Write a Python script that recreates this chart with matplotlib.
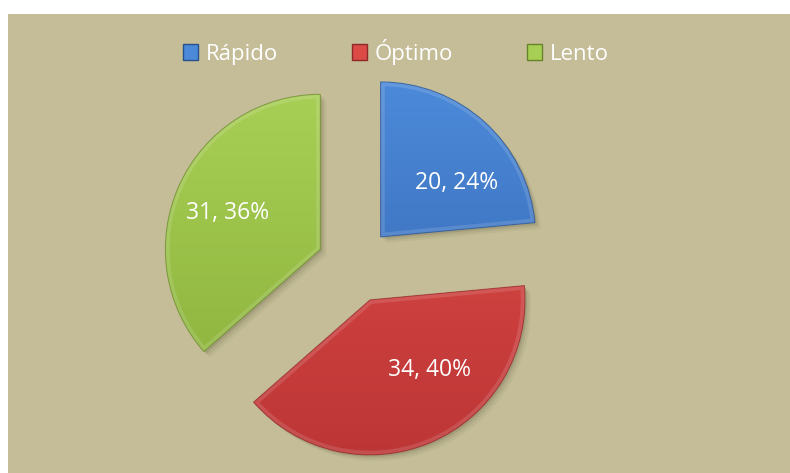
import numpy as np
import matplotlib
matplotlib.use("Agg")
import matplotlib.pyplot as plt
from matplotlib.colors import LinearSegmentedColormap
from matplotlib.patches import Patch, Wedge

# data
categories = ["Rápido", "Óptimo", "Lento"]
values = [20, 34, 31]

# colours (top of gradient, bottom of gradient, edge)
tops = ["#4C8AD9", "#DB4A47", "#A8CF55"]
bottoms = ["#3567B2", "#BD3636", "#8CB23C"]
edges = ["#27508C", "#8E2827", "#66832A"]

bg = "#C4BD97"
plt.rcParams["font.family"] = ["Open Sans", "DejaVu Sans"]

fig = plt.figure(figsize=(7.9, 4.73), dpi=100)
fig.patch.set_facecolor("white")
# panel in pixel units
ax = fig.add_axes([8 / 790, 0, 782 / 790, 459 / 473])
ax.set_facecolor(bg)

total = sum(values)
wedges, texts, autotexts = ax.pie(
    values, radius=155, center=(347, 208), explode=[38, 38, 38],
    startangle=90, counterclock=False, frame=True,
    colors=bottoms,
    autopct=lambda p: "{:.0f}, {:.0f}%".format(p * total / 100, p),
    pctdistance=0.6,
    textprops=dict(color="white", fontsize=16.5),
    wedgeprops=dict(linewidth=0),
)

label_shift = [-12, 17, 3]   # degrees, nudge labels like the original
label_dist = [0.6, 0.59, 0.64]

for i, w in enumerate(wedges):
    cx, cy = w.center
    r = w.r
    # soft shadow
    for k, a in [(6, 0.05), (4, 0.08), (2, 0.12)]:
        sh = Wedge((cx + k, cy - k), r, w.theta1, w.theta2,
                   facecolor="#3a3520", alpha=a, lw=0, zorder=0.5)
        ax.add_patch(sh)
    w.set_zorder(1)
    # vertical gradient clipped to the wedge
    cmap = LinearSegmentedColormap.from_list("g%d" % i, [bottoms[i], tops[i]])
    grad = np.linspace(0, 1, 256).reshape(-1, 1)
    im = ax.imshow(grad, cmap=cmap, origin="lower", aspect="auto",
                   extent=(cx - r, cx + r, cy - r, cy + r), zorder=1.1,
                   interpolation="bilinear")
    im.set_clip_path(w)
    # bevel: light rim inside, dark thin outline
    rim = Wedge((cx, cy), r, w.theta1, w.theta2, facecolor="none",
                edgecolor="white", lw=6, alpha=0.13, zorder=1.2)
    ax.add_patch(rim)
    rim.set_clip_path(w)
    rim2 = Wedge((cx, cy), r, w.theta1, w.theta2, facecolor="none",
                 edgecolor=edges[i], lw=0.8, alpha=0.6, zorder=1.3)
    ax.add_patch(rim2)

    # move labels
    mid = np.deg2rad((w.theta1 + w.theta2) / 2 + label_shift[i])
    t = autotexts[i]
    t.set_position((cx + label_dist[i] * r * np.cos(mid),
                    cy + label_dist[i] * r * np.sin(mid)))
    t.set_zorder(3)

handles = [Patch(facecolor=tops[i], edgecolor=edges[i], lw=1) for i in range(3)]
leg = ax.legend(handles, categories, ncol=3, loc="center",
                bbox_to_anchor=(388 / 782, 421 / 459),
                frameon=False, fontsize=16, labelcolor="white",
                handlelength=0.7, handleheight=0.7, handletextpad=0.35,
                columnspacing=3.3)

ax.set_xlim(0, 782)
ax.set_ylim(0, 459)
ax.set_xticks([])
ax.set_yticks([])
for s in ax.spines.values():
    s.set_visible(False)

fig.savefig("out.png", dpi=100, facecolor="white")
